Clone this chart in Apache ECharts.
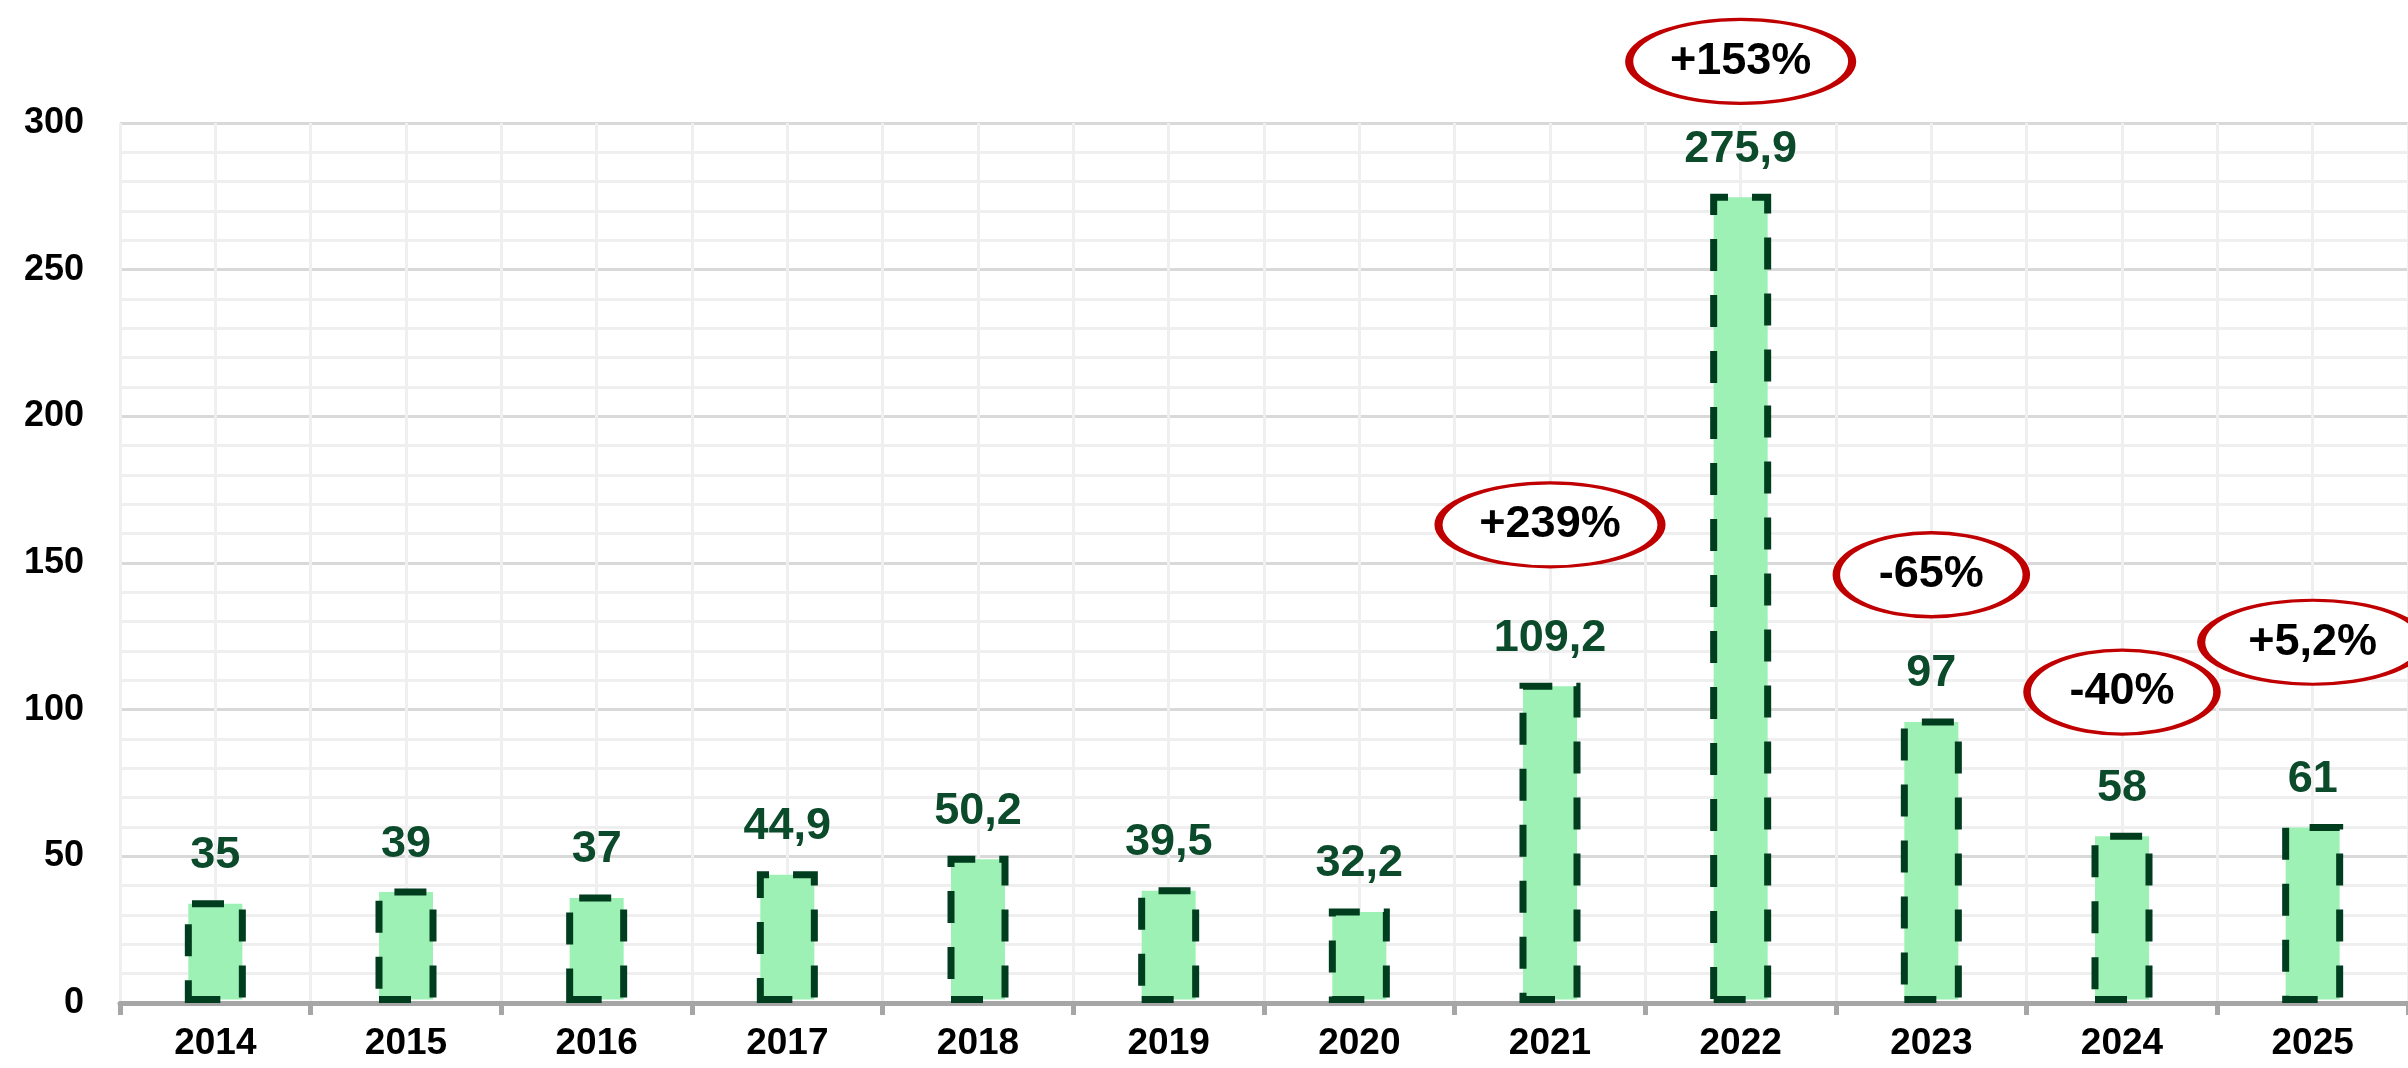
<!DOCTYPE html>
<html>
<head>
<meta charset="utf-8">
<script src="https://cdn.jsdelivr.net/npm/echarts@6/dist/echarts.min.js"></script>
<style>
  html, body { margin: 0; padding: 0; background: #fff; }
  #main { width: 2408px; height: 1068px; }
</style>
</head>
<body>
<div id="main"></div>
<script>
// data
var years = ['2014', '2015', '2016', '2017', '2018', '2019', '2020', '2021', '2022', '2023', '2024', '2025'];
var values = [35, 39, 37, 44.9, 50.2, 39.5, 32.2, 109.2, 275.9, 97, 58, 61];

// change bubbles: which year, text, and the level (axis units) where the bubble sits
var changeYears = ['2021', '2022', '2023', '2024', '2025'];
var changeLabels = ['+239%', '+153%', '-65%', '-40%', '+5,2%'];
var changeLevels = [163, 321, 146, 106, 123];

var yMin = 0, yMax = 300, yStep = 50;

var FONT = '"Liberation Sans", Arial, sans-serif';

var chartDom = document.getElementById('main');
var myChart = echarts.init(chartDom, null, { renderer: 'canvas' });

var bubbles = changeYears.map(function (y, i) {
  return { name: changeLabels[i], value: [y, changeLevels[i]] };
});

var option = {
  backgroundColor: '#ffffff',
  animation: false,
  grid: { left: 120, right: 0, top: 123, bottom: 65, containLabel: false, outerBoundsMode: 'none' },
  xAxis: [
    {
      type: 'category',
      data: years,
      boundaryGap: true,
      axisLine: { show: true, lineStyle: { color: '#a6a6a6', width: 5 } },
      axisTick: { show: true, length: 12, lineStyle: { color: '#a6a6a6', width: 5 } },
      axisLabel: { color: '#000', fontSize: 37, fontWeight: 'bold', fontFamily: FONT, margin: 22 },
      splitLine: { show: false }
    },
    {
      // only used for the light vertical grid (every half category)
      type: 'value',
      min: 0, max: years.length * 2, interval: 1,
      position: 'top',
      axisLine: { show: false }, axisTick: { show: false }, axisLabel: { show: false },
      splitLine: { show: true, lineStyle: { color: '#efefef', width: 3 } }
    }
  ],
  yAxis: {
    type: 'value',
    min: yMin, max: yMax, interval: yStep,
    axisLine: { show: false },
    axisTick: { show: false },
    axisLabel: { color: '#000', fontSize: 36, fontWeight: 'bold', fontFamily: FONT, align: 'right', margin: 36 },
    splitLine: { show: true, lineStyle: { color: '#d9d9d9', width: 3 } },
    minorTick: { show: false, splitNumber: 5 },
    minorSplitLine: { show: true, lineStyle: { color: '#efefef', width: 3 } }
  },
  series: [
    {
      type: 'bar',
      data: values,
      barWidth: 61,
      itemStyle: {
        color: '#9df1b5',
        borderColor: '#003d1e',
        borderWidth: 7,
        borderType: [32, 24]
      },
      label: {
        show: true,
        position: 'top',
        distance: 22,
        color: '#0b4a2a',
        fontSize: 45,
        fontWeight: 'bold',
        fontFamily: FONT,
        formatter: function (p) { return String(p.value).replace('.', ','); }
      },
      z: 2
    },
    {
      type: 'scatter',
      data: bubbles,
      clip: false,
      symbol: 'circle',
      symbolSize: function (v, p) { return [58 + 33 * p.name.length, 84]; },
      itemStyle: { color: '#ffffff', borderColor: '#c00000', borderWidth: 5, opacity: 1 },
      label: {
        show: true,
        position: 'inside',
        color: '#000',
        fontSize: 45,
        fontWeight: 'bold',
        fontFamily: FONT,
        formatter: function (p) { return p.name; }
      },
      z: 5
    }
  ]
};

option && myChart.setOption(option);
</script>
</body>
</html>
